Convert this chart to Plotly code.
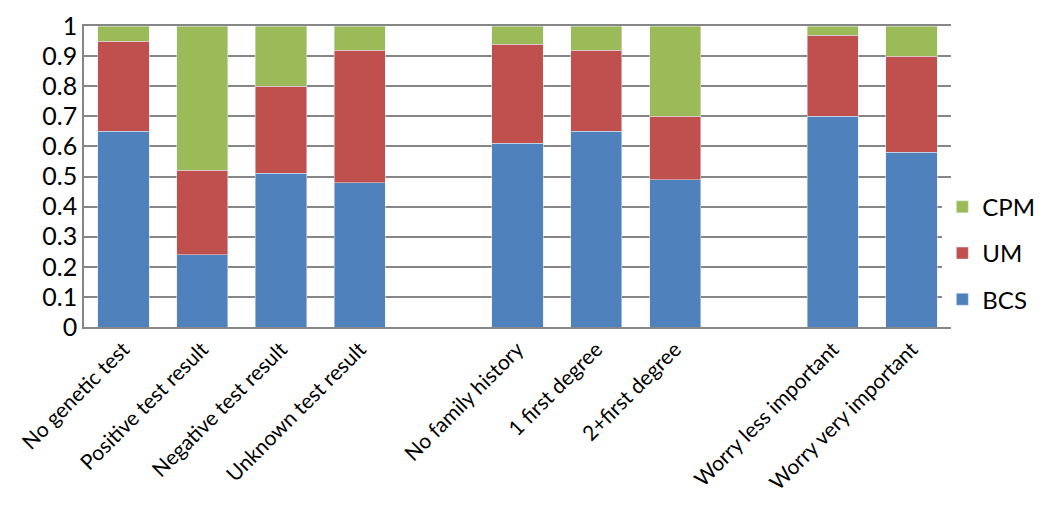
import plotly.graph_objects as go

# categories (blank slots are the gaps between groups)
categories = ["No genetic test", "Positive test result", "Negative test result",
              "Unknown test result", " ",
              "No family history", "1 first degree", "2+first degree", "  ",
              "Worry less important", "Worry very important"]

bcs = [0.65, 0.24, 0.51, 0.48, None, 0.61, 0.65, 0.49, None, 0.70, 0.58]
um = [0.30, 0.28, 0.29, 0.44, None, 0.33, 0.27, 0.21, None, 0.27, 0.32]
cpm = [0.05, 0.48, 0.20, 0.08, None, 0.06, 0.08, 0.30, None, 0.03, 0.10]

fig = go.Figure()
fig.add_trace(go.Bar(x=categories, y=bcs, name="BCS", marker_color="#4F81BD",
                     legendgroup="a", legendrank=3))
fig.add_trace(go.Bar(x=categories, y=um, name="UM", marker_color="#C0504D",
                     legendgroup="b", legendrank=2))
fig.add_trace(go.Bar(x=categories, y=cpm, name="CPM", marker_color="#9BBB59",
                     legendgroup="c", legendrank=1))

fig.update_layout(
    barmode="stack",
    bargap=0.35,
    width=1050, height=510,
    margin=dict(l=76, r=107, t=18, b=191, autoexpand=False),
    plot_bgcolor="white", paper_bgcolor="white",
    font=dict(family="Lato, Open Sans, sans-serif", color="black"),
    legend=dict(x=0.99, y=0.245, yanchor="middle", traceorder="grouped",
                font=dict(size=24), itemwidth=30, tracegroupgap=12),
    showlegend=True,
)
fig.update_xaxes(tickangle=-45, tickfont=dict(size=21), showline=True, mirror=True,
                 linecolor="#868686", linewidth=1.5, ticks="", automargin=False)
fig.update_yaxes(range=[0, 1], dtick=0.1, tickformat="~g",
                 tickfont=dict(size=25), ticklabeloverflow="allow",
                 showgrid=True, gridcolor="#868686", gridwidth=1.5,
                 showline=True, linecolor="#868686", linewidth=1.5,
                 zeroline=False, ticks="", automargin=False)

fig.write_html("out.html")
